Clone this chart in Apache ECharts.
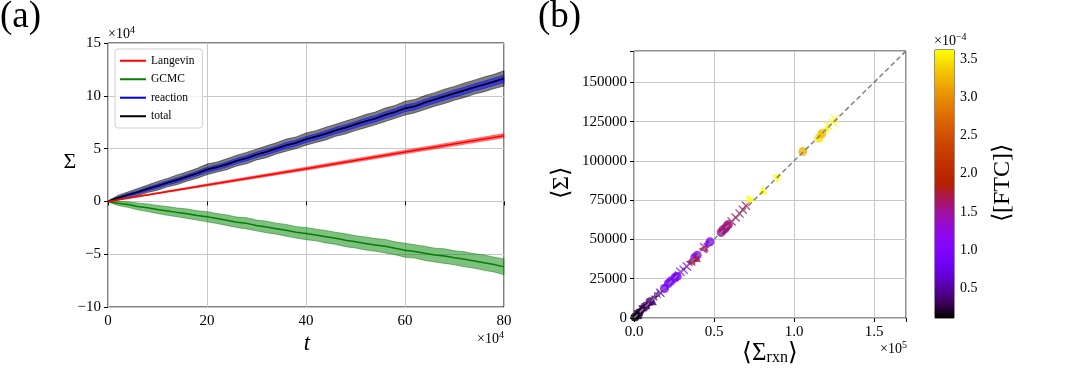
<!DOCTYPE html>
<html>
<head>
<meta charset="utf-8">
<script src="https://cdn.jsdelivr.net/npm/echarts@6/dist/echarts.min.js"></script>
<style>
html, body { margin: 0; padding: 0; background: #fff; }
#main { width: 1065px; height: 376px; }
</style>
</head>
<body>
<div id="main"></div>
<script>
// ---- panel (a): t and Sigma both in units of 1e4 ----
var tVals = [0, 2, 4, 6, 8, 10, 12, 14, 16, 18, 20, 22, 24, 26, 28, 30, 32, 34, 36, 38, 40,
             42, 44, 46, 48, 50, 52, 54, 56, 58, 60, 62, 64, 66, 68, 70, 72, 74, 76, 78, 80];
var totalMean = [0, 0.35, 0.62, 0.88, 1.2, 1.47, 1.78, 2.05, 2.36, 2.66, 3.03, 3.25, 3.52, 3.86, 4.1, 4.44, 4.7, 5.02, 5.33, 5.55, 5.9,
                 6.14, 6.42, 6.74, 7.0, 7.3, 7.6, 7.86, 8.2, 8.48, 8.83, 9.02, 9.36, 9.66, 9.95, 10.24, 10.52, 10.82, 11.08, 11.36, 11.65];
var totalSpread = [0.05, 0.22, 0.27, 0.34, 0.35, 0.41, 0.4, 0.46, 0.44, 0.47, 0.5, 0.47, 0.52, 0.5, 0.54, 0.51, 0.56, 0.53, 0.57, 0.55, 0.58,
                   0.56, 0.6, 0.57, 0.61, 0.59, 0.62, 0.6, 0.64, 0.61, 0.65, 0.63, 0.66, 0.64, 0.68, 0.65, 0.69, 0.66, 0.7, 0.68, 0.72];
var reactionMean = [0, 0.32, 0.6, 0.86, 1.17, 1.44, 1.76, 2.02, 2.33, 2.64, 2.99, 3.22, 3.5, 3.83, 4.08, 4.41, 4.67, 4.98, 5.3, 5.53, 5.86,
                    6.11, 6.39, 6.71, 6.97, 7.27, 7.57, 7.83, 8.17, 8.45, 8.8, 8.99, 9.33, 9.63, 9.92, 10.21, 10.49, 10.79, 11.05, 11.33, 11.6];
var reactionSpread = [0.03, 0.1, 0.14, 0.16, 0.18, 0.2, 0.2, 0.22, 0.22, 0.23, 0.24, 0.24, 0.25, 0.25, 0.26, 0.26, 0.27, 0.27, 0.28, 0.28, 0.28,
                      0.29, 0.29, 0.3, 0.3, 0.3, 0.31, 0.31, 0.31, 0.32, 0.32, 0.32, 0.33, 0.33, 0.33, 0.34, 0.34, 0.34, 0.35, 0.35, 0.35];
var gcmcMean = [0, -0.18, -0.3, -0.48, -0.6, -0.76, -0.9, -1.04, -1.16, -1.33, -1.45, -1.62, -1.78, -1.97, -2.08, -2.28, -2.42, -2.58, -2.74, -2.93, -3.05,
                -3.18, -3.34, -3.5, -3.68, -3.83, -3.98, -4.12, -4.24, -4.44, -4.62, -4.74, -4.92, -5.08, -5.18, -5.34, -5.48, -5.64, -5.8, -5.98, -6.2];
var gcmcSpread = [0.05, 0.2, 0.26, 0.32, 0.36, 0.38, 0.42, 0.41, 0.45, 0.44, 0.48, 0.47, 0.5, 0.49, 0.53, 0.51, 0.55, 0.52, 0.56, 0.54, 0.58,
                  0.55, 0.59, 0.57, 0.61, 0.58, 0.62, 0.6, 0.64, 0.61, 0.66, 0.63, 0.67, 0.65, 0.69, 0.66, 0.71, 0.68, 0.73, 0.7, 0.75];
var langT = [0, 20, 40, 60, 80];
var langMean = [0, 1.55, 3.1, 4.68, 6.22];
var langSpread = [0.02, 0.1, 0.14, 0.17, 0.2];

// ---- panel (b): scatter of <Sigma> vs <Sigma_rxn>, coloured by <[FTC]> (1e-4) ----
var sxVals = [500, 1200, 1800, 2500, 3000, 3800, 4500, 5500, 6200, 7000,
              8500, 10000, 11500, 13000, 15000, 16500,
              19000, 20000, 21500, 23000, 24000, 25500, 27000, 26000, 29000, 31000, 33000, 35000, 38000, 39500, 46000, 47500, 44000,
              35500, 39000, 43000,
              54500, 55500, 57000, 58000, 59000, 56500,
              61000, 63500, 66000, 68000, 70000,
              73500, 80500, 89500, 105500, 115500, 116500, 117500, 120500, 121500, 124500, 125500];
var syVals = [600, 1100, 2000, 2300, 3200, 3600, 4700, 5200, 6500, 7300,
              8200, 10400, 11000, 13500, 15500, 16000,
              18800, 20500, 22000, 23500, 24500, 25500, 26500, 27000, 29500, 30800, 32800, 35500, 38500, 40000, 47000, 48500, 45000,
              36000, 38500, 44000,
              54500, 56000, 57000, 58500, 59500, 56000,
              61500, 64000, 66500, 69000, 71500,
              75500, 81500, 88500, 106000, 114500, 116000, 117500, 120500, 122500, 124500, 127000];
var ftcVals = [0.12, 0.14, 0.15, 0.16, 0.18, 0.2, 0.22, 0.24, 0.27, 0.3,
               0.33, 0.36, 0.38, 0.45, 0.48, 0.5,
               0.85, 0.88, 0.92, 0.95, 0.95, 0.97, 1.0, 0.96, 1.0, 1.02, 1.05, 1.0, 1.05, 1.08, 1.1, 1.1, 1.05,
               1.75, 1.72, 1.7,
               1.55, 1.55, 1.58, 1.6, 1.58, 1.55,
               1.6, 1.6, 1.62, 1.63, 1.62,
               3.6, 3.6, 3.6, 3.25, 3.5, 3.45, 3.3, 3.55, 3.55, 3.6, 3.6];
var markVals = ['o', '*', '^', 'x', 'o', '*', 'D', 'v', '*', 'o',
                '*', 'o', '^', '*', '*', 'x',
                'o', '*', 'o', 'o', '*', 'o', 'o', 'D', 'x', 'x', 'x', '*', 'o', 'o', 'D', 'o', 'x',
                '<', '^', '<',
                'o', 'o', 'o', 'o', 'o', 'D',
                'x', 'x', 'x', 'x', 'x',
                '>', '^', 'v', 'o', 'o', 'D', 'o', '*', 'x', 'x', 'x'];
var diagVals = [0, 170000];
var cbRange = [0.11, 3.62];
var cbTicks = [0.5, 1.0, 1.5, 2.0, 2.5, 3.0, 3.5];

// gnuplot colormap sampled every 0.05
var gnuplot = ['#000000', '#39004f', '#510096', '#6301ce', '#7202f3', '#8004ff', '#8c07f3', '#970bce', '#a11096', '#ab174f', '#b42000',
               '#bd2a00', '#c53700', '#cd4600', '#d55700', '#dd6b00', '#e48300', '#eb9c00', '#f2ba00', '#f8da00', '#ffff00'];

var serif = 'Liberation Serif';

function pairs(xs, ys) {
    return xs.map(function (x, i) { return [x, ys[i]]; });
}
// shaded band mean +- spread, drawn as one polygon through the axis scales
function band(xs, mean, spread, fill, edge) {
    return {
        type: 'custom', xAxisIndex: 0, yAxisIndex: 0, silent: true,
        data: xs.map(function (x, i) { return [x, mean[i] - spread[i], mean[i] + spread[i]]; }),
        encode: { x: 0, y: [1, 2] },
        renderItem: function (params, api) {
            if (params.dataIndex !== 0) return;
            var top = xs.map(function (x, i) { return api.coord([x, mean[i] + spread[i]]); });
            var bot = xs.map(function (x, i) { return api.coord([x, mean[i] - spread[i]]); }).reverse();
            return {
                type: 'polygon',
                shape: { points: top.concat(bot) },
                style: { fill: fill, stroke: edge, lineWidth: 0.8 }
            };
        }
    };
}
function line(name, xs, ys, color) {
    return {
        type: 'line', name: name, xAxisIndex: 0, yAxisIndex: 0,
        showSymbol: false, data: pairs(xs, ys),
        lineStyle: { color: color, width: 1.5 }, itemStyle: { color: color }
    };
}

var starPath = 'path://M0,-1L0.22,-0.31L0.95,-0.31L0.36,0.12L0.59,0.81L0,0.38L-0.59,0.81L-0.36,0.12L-0.95,-0.31L-0.22,-0.31Z';
var xPath = 'path://M-1,-0.8L-0.8,-1L0,-0.2L0.8,-1L1,-0.8L0.2,0L1,0.8L0.8,1L0,0.2L-0.8,1L-1,0.8L-0.2,0Z';
function markerOf(m) {
    if (m === 'o') return { symbol: 'circle' };
    if (m === '^') return { symbol: 'triangle' };
    if (m === 'v') return { symbol: 'triangle', symbolRotate: 180 };
    if (m === '>') return { symbol: 'triangle', symbolRotate: -90 };
    if (m === '<') return { symbol: 'triangle', symbolRotate: 90 };
    if (m === 'D') return { symbol: 'diamond' };
    if (m === '*') return { symbol: starPath };
    return { symbol: xPath };
}
var scatterData = sxVals.map(function (x, i) {
    var d = markerOf(markVals[i]);
    d.value = [x, syVals[i], ftcVals[i]];
    return d;
});

function minusFmt(v) { return String(v).replace('-', '\u2212'); }

var tickLbl = { fontFamily: serif, fontSize: 15, color: '#000', margin: 7 };
var gridLine = { show: true, lineStyle: { color: '#c8c8c8', width: 1 } };
var tick = { show: true, inside: false, length: 4, lineStyle: { color: '#000' } };

var series = [];
series.push(band(tVals, totalMean, totalSpread, 'rgba(0,0,0,0.5)', 'rgba(0,0,0,0.6)'));
series.push(band(tVals, reactionMean, reactionSpread, 'rgba(0,0,255,0.5)', 'rgba(0,0,255,0.5)'));
series.push(band(tVals, gcmcMean, gcmcSpread, 'rgba(0,128,0,0.5)', 'rgba(0,128,0,0.6)'));
series.push(band(langT, langMean, langSpread, 'rgba(255,0,0,0.5)', 'rgba(255,0,0,0.5)'));
series.push(line('GCMC', tVals, gcmcMean, '#008000'));
series.push(line('reaction', tVals, reactionMean, '#0000ff'));
series.push(line('total', tVals, totalMean, '#000000'));
series.push(line('Langevin', langT, langMean, '#ff0000'));
var scatterIndex = series.length;
series.push({
    type: 'scatter', xAxisIndex: 1, yAxisIndex: 1, symbolSize: 9,
    data: scatterData, z: 3
});
series.push({
    type: 'line', xAxisIndex: 1, yAxisIndex: 1, showSymbol: false, z: 4,
    data: pairs(diagVals, diagVals),
    lineStyle: { color: '#808080', width: 1.5, type: [5, 3] }
});
series.push({
    type: 'custom', xAxisIndex: 2, yAxisIndex: 2, silent: true,
    data: [[0, cbRange[0], 1, cbRange[1]]],
    renderItem: function (params, api) {
        var p0 = api.coord([api.value(0), api.value(1)]);
        var p1 = api.coord([api.value(2), api.value(3)]);
        var stops = gnuplot.map(function (c, i) { return { offset: i / (gnuplot.length - 1), color: c }; });
        return {
            type: 'rect',
            shape: { x: p0[0], y: p1[1], width: p1[0] - p0[0], height: p0[1] - p1[1] },
            style: { fill: new echarts.graphic.LinearGradient(0, 1, 0, 0, stops) }
        };
    }
});

function offsetText(x, y, base, sup, align) {
    return {
        type: 'text', x: x, y: y,
        style: {
            text: '{a|' + base + '}{s|' + sup + '}',
            align: align || 'left', verticalAlign: 'middle',
            rich: {
                a: { fontFamily: serif, fontSize: 14, lineHeight: 16, verticalAlign: 'bottom', fill: '#000' },
                s: { fontFamily: serif, fontSize: 10, lineHeight: 10, verticalAlign: 'top', fill: '#000' }
            }
        }
    };
}

var chart = echarts.init(document.getElementById('main'), null, { renderer: 'canvas' });
chart.setOption({
    animation: false,
    backgroundColor: '#fff',
    grid: [
        { left: 108, top: 43, width: 396, height: 264, show: true, borderColor: '#000', borderWidth: 1, backgroundColor: 'transparent' },
        { left: 634, top: 51, width: 272, height: 267, show: true, borderColor: '#222', borderWidth: 1, backgroundColor: 'transparent' },
        { left: 935, top: 50, width: 19, height: 268, show: true, borderColor: '#222', borderWidth: 1, backgroundColor: 'transparent' }
    ],
    xAxis: [
        { type: 'value', gridIndex: 0, min: 0, max: 80, interval: 20,
          axisLine: { show: false }, axisTick: tick, splitLine: gridLine, axisLabel: tickLbl },
        { type: 'value', gridIndex: 1, min: 0, max: 170000, interval: 50000,
          axisLine: { show: false }, axisTick: tick, splitLine: gridLine,
          axisLabel: Object.assign({}, tickLbl, { formatter: function (v) { return v % 50000 === 0 ? (v / 1e5).toFixed(1) : ''; } }) },
        { type: 'value', gridIndex: 2, min: 0, max: 1, show: false }
    ],
    yAxis: [
        { type: 'value', gridIndex: 0, min: -10, max: 15, interval: 5,
          axisLine: { show: false }, axisTick: tick, splitLine: gridLine,
          axisLabel: Object.assign({}, tickLbl, { formatter: minusFmt }) },
        { type: 'value', gridIndex: 1, min: 0, max: 170000, interval: 25000,
          axisLine: { show: false }, axisTick: tick, splitLine: gridLine,
          axisLabel: Object.assign({}, tickLbl, { formatter: function (v) { return v % 25000 === 0 ? String(v) : ''; } }) },
        { type: 'value', gridIndex: 2, position: 'right', min: cbRange[0], max: cbRange[1],
          axisLine: { show: false }, splitLine: { show: false },
          axisTick: { show: true, inside: false, length: 4, lineStyle: { color: '#000' }, customValues: cbTicks },
          axisLabel: { fontFamily: serif, fontSize: 14, color: '#000', margin: 6, customValues: cbTicks,
                       formatter: function (v) { return v.toFixed(1); } } }
    ],
    visualMap: {
        type: 'continuous', show: false, seriesIndex: scatterIndex, dimension: 2,
        min: cbRange[0], max: cbRange[1], inRange: { color: gnuplot }
    },
    legend: {
        data: ['Langevin', 'GCMC', 'reaction', 'total'],
        orient: 'vertical', left: 115, top: 49,
        icon: 'rect', itemWidth: 26, itemHeight: 2, itemGap: 5,
        padding: [5, 8, 5, 5],
        borderColor: '#d0d0d0', borderWidth: 1, borderRadius: 3, backgroundColor: 'rgba(255,255,255,0.8)',
        textStyle: { fontFamily: serif, fontSize: 11.5, color: '#000', lineHeight: 13.5 }
    },
    graphic: [
        { type: 'text', x: 0, y: -1, style: { text: '(a)', fontFamily: serif, fontSize: 37, fill: '#000' } },
        { type: 'text', x: 538, y: -1, style: { text: '(b)', fontFamily: serif, fontSize: 37, fill: '#000' } },
        { type: 'text', x: 70, y: 162, style: { text: '\u03a3', fontFamily: serif, fontSize: 22, fill: '#000', align: 'center', verticalAlign: 'middle' } },
        { type: 'text', x: 307, y: 344, style: { text: 't', fontFamily: serif, fontStyle: 'italic', fontSize: 23, fill: '#000', align: 'center', verticalAlign: 'middle' } },
        offsetText(108, 33, '\u00d710', '4'),
        offsetText(504, 338, '\u00d710', '4', 'right'),
        offsetText(907, 348, '\u00d710', '5', 'right'),
        offsetText(934, 40, '\u00d710', '\u22124'),
        { type: 'text', x: 562, y: 183, rotation: Math.PI / 2,
          style: { text: '\u27e8\u03a3\u27e9', fontFamily: serif, fontSize: 24, fill: '#000', align: 'center', verticalAlign: 'middle' } },
        { type: 'text', x: 1003, y: 183, rotation: Math.PI / 2,
          style: { text: '\u27e8[FTC]\u27e9', fontFamily: serif, fontSize: 24, fill: '#000', align: 'center', verticalAlign: 'middle' } },
        { type: 'text', x: 770, y: 358,
          style: {
              text: '{a|\u27e8\u03a3}{s|rxn}{a|\u27e9}', align: 'center', verticalAlign: 'middle',
              rich: {
                  a: { fontFamily: serif, fontSize: 25, lineHeight: 24, verticalAlign: 'top', fill: '#000' },
                  s: { fontFamily: serif, fontSize: 16, lineHeight: 34, fill: '#000' }
              }
          } }
    ],
    series: series
});
</script>
</body>
</html>
